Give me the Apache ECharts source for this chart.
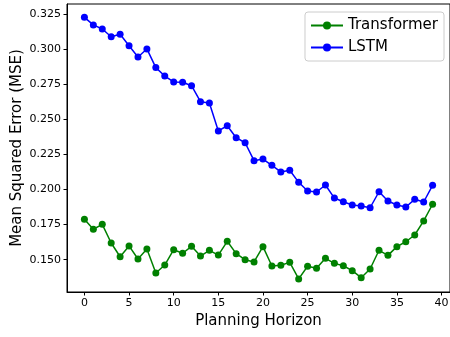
<!DOCTYPE html>
<html><head><meta charset="utf-8">
<script src="https://cdn.jsdelivr.net/npm/echarts@6/dist/echarts.min.js"></script>
<style>html,body{margin:0;padding:0;background:#fff}#c{width:450px;height:337px}</style>
</head><body><div id="c"></div>
<script>
const horizons = Array.from({length: 40}, (_, i) => i);
const transformer = [0.1788,0.1717,0.1752,0.1619,0.1521,0.1598,0.1505,0.1576,0.1405,0.1462,
  0.1571,0.1546,0.1595,0.1526,0.1567,0.1533,0.1631,0.1543,0.1500,0.1484,
  0.1593,0.1455,0.1460,0.1481,0.1363,0.1453,0.1439,0.1510,0.1474,0.1457,
  0.1422,0.1372,0.1434,0.1567,0.1531,0.1593,0.1628,0.1676,0.1776,0.1895];
const lstm = [0.3226,0.3172,0.3143,0.3088,0.3105,0.3024,0.2944,0.3001,0.2868,0.2808,
  0.2766,0.2764,0.2739,0.2625,0.2616,0.2417,0.2454,0.2369,0.2333,0.2205,
  0.2217,0.2172,0.2125,0.2137,0.2051,0.1989,0.1982,0.2032,0.1939,0.1913,
  0.1890,0.1882,0.1870,0.1984,0.1918,0.1890,0.1875,0.1930,0.1911,0.2030];
const xTicks = [0,5,10,15,20,25,30,35,40];
const yTicks = [0.150,0.175,0.200,0.225,0.250,0.275,0.300,0.325];

const font = 'DejaVu Sans';
const chart = echarts.init(document.getElementById('c'));
chart.setOption({
  animation: false,
  textStyle: {fontFamily: font},
  grid: {left: 67, top: 4, right: 0, bottom: 45, containLabel: false, outerBoundsMode: 'none',
    show: true, borderColor: '#000', borderWidth: 1, backgroundColor: 'transparent'},
  legend: {
    right: 6, top: 12, orient: 'vertical',
    borderColor: '#cccccc', borderWidth: 1, borderRadius: 3, backgroundColor: '#fff',
    padding: [6, 6, 6, 5], itemGap: 7, itemWidth: 32, itemHeight: 10,
    textStyle: {fontFamily: font, fontSize: 15, color: '#000'},
    data: ['Transformer', 'LSTM']
  },
  xAxis: {
    type: 'value', min: -1.95, max: 40.95,
    name: 'Planning Horizon', nameLocation: 'middle', nameGap: 22, nameMoveOverlap: false,
    nameTextStyle: {fontFamily: font, fontSize: 15, color: '#000'},
    axisLine: {show: true, onZero: false, lineStyle: {color: '#000', width: 1}},
    axisTick: {show: true, length: 3.5, customValues: xTicks, lineStyle: {color: '#000'}},
    axisLabel: {customValues: xTicks, fontSize: 11, color: '#000', margin: 6, fontFamily: font},
    splitLine: {show: false}
  },
  yAxis: {
    type: 'value', min: 0.1270, max: 0.3321,
    name: 'Mean Squared Error (MSE)', nameLocation: 'middle', nameGap: 42, nameMoveOverlap: false,
    nameTextStyle: {fontFamily: font, fontSize: 15, color: '#000'},
    axisLine: {show: true, onZero: false, lineStyle: {color: '#000', width: 1}},
    axisTick: {show: true, length: 3.5, customValues: yTicks, lineStyle: {color: '#000'}},
    axisLabel: {customValues: yTicks, fontSize: 11, color: '#000', margin: 6, fontFamily: font,
      formatter: v => v.toFixed(3)},
    splitLine: {show: false}
  },
  series: [
    {name: 'Transformer', type: 'line', data: horizons.map((h, i) => [h, transformer[i]]),
     symbol: 'circle', symbolSize: 7, color: '#008000', lineStyle: {width: 1.5, color: '#008000'}, itemStyle: {color: '#008000'}},
    {name: 'LSTM', type: 'line', data: horizons.map((h, i) => [h, lstm[i]]),
     symbol: 'circle', symbolSize: 7, color: '#0000ff', lineStyle: {width: 1.5, color: '#0000ff'}, itemStyle: {color: '#0000ff'}}
  ]
});
</script></body></html>
